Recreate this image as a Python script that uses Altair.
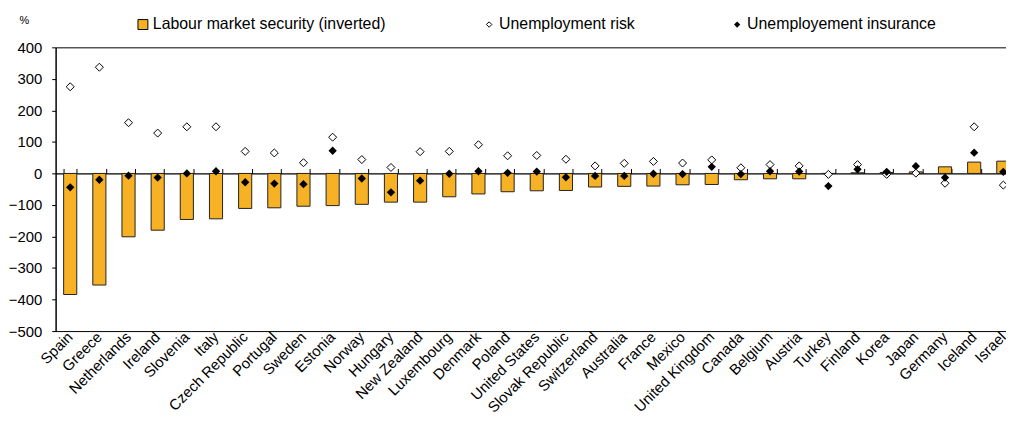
import altair as alt
import pandas as pd

countries = ["Spain", "Greece", "Netherlands", "Ireland", "Slovenia", "Italy",
             "Czech Republic", "Portugal", "Sweden", "Estonia", "Norway", "Hungary",
             "New Zealand", "Luxembourg", "Denmark", "Poland", "United States",
             "Slovak Republic", "Switzerland", "Australia", "France", "Mexico",
             "United Kingdom", "Canada", "Belgium", "Austria", "Turkey", "Finland",
             "Korea", "Japan", "Germany", "Iceland", "Israel"]

labour_security = [-384, -354, -201, -180, -146, -144, -111, -109, -104, -102, -98, -91,
                   -91, -74, -65, -58, -55, -54, -43, -41, -40, -36, -35, -20, -17, -17,
                   0, 2, 3, 5, 21, 36, 39]

unemp_risk = [275, 337, 161, 128, 148, 148, 70, 65, 34, 115, 44, 19,
              69, 70, 91, 56, 57, 45, 24, 32, 38, 33, 43, 18, 28, 24,
              -3, 28, -3, 1, -31, 148, -37]

unemp_insurance = [-44, -20, -7, -13, 0, 7, -28, -32, -34, 72, -16, -60,
                   -23, -1, 7, 2, 6, -12, -8, -8, -1, -2, 21, -2, 7, 6,
                   -40, 13, 5, 23, -13, 66, 5]

series_names = ["Labour market security (inverted)", "Unemployment risk",
                "Unemployement insurance"]

df = pd.DataFrame({
    "country": countries,
    "security": labour_security,
    "risk": unemp_risk,
    "insurance": unemp_insurance,
    "s1": series_names[0],
    "s2": series_names[1],
    "s3": series_names[2],
})

FONT = "Liberation Sans"
W = 970
H = 286
zero_offset = -H * 400 / 900
xscale = alt.Scale(paddingInner=0.55, paddingOuter=0.275)
yscale = alt.Scale(domain=[-500, 400], nice=False)

x_bottom = alt.X(
    "country:N", sort=countries, title=None, scale=xscale,
    axis=alt.Axis(orient="bottom", labelAngle=-45, labelAlign="right",
                  labelBaseline="middle", ticks=False, domain=False,
                  labelFontSize=15, labelFont=FONT, labelColor="#000",
                  labelPadding=3, labelOffset=0, labelOverlap=False,
                  labelFlush=False, labelLimit=300),
)
x_top = alt.X(
    "country:N", sort=countries, title=None, scale=xscale,
    axis=alt.Axis(orient="top", offset=zero_offset, labels=False, ticks=True,
                  tickBand="extent", tickSize=5, tickColor="#000", domain=True,
                  domainColor="#000", domainWidth=1.2),
)
x_none = alt.X("country:N", sort=countries, title=None, scale=xscale, axis=None)

y_axis = alt.Axis(values=list(range(-500, 401, 100)), grid=False,
                  tickSize=4, tickColor="#000", domainColor="#000",
                  labelFontSize=15, labelFont=FONT, labelColor="#000",
                  labelPadding=10, labelOverlap=False,
                  title="%", titleAngle=0, titleFontSize=11,
                  titleFont=FONT, titleFontWeight="normal", titleColor="#000",
                  titleX=-32, titleY=-27, titleAlign="center",
                  titleBaseline="middle")

leg_common = dict(title=None, orient="none", labelFontSize=16, labelFont=FONT,
                  labelColor="#000", padding=0, labelLimit=400, offset=0,
                  labelOffset=2)

bars = alt.Chart(df).mark_bar(stroke="#222", strokeWidth=1).encode(
    x=x_bottom,
    y=alt.Y("security:Q", scale=yscale, axis=y_axis),
    fill=alt.Fill("s1:N", scale=alt.Scale(domain=[series_names[0]], range=["#F7B124"]),
                  legend=alt.Legend(legendX=80, legendY=-31,
                                    symbolType="square", symbolSize=100,
                                    symbolStrokeColor="#000", symbolStrokeWidth=1,
                                    **leg_common)),
)

risk_pts = alt.Chart(df).mark_point(shape="diamond", filled=False, fill="white",
                                     fillOpacity=1, strokeWidth=1,
                                     size=65, opacity=1).encode(
    x=x_top,
    y=alt.Y("risk:Q", scale=yscale, axis=y_axis),
    color=alt.Color("s2:N", scale=alt.Scale(domain=[series_names[1]], range=["#000"]),
                    legend=alt.Legend(legendX=429, legendY=-31,
                                      symbolType="diamond", symbolFillColor="white",
                                      symbolStrokeWidth=1, symbolSize=30,
                                      **leg_common)),
)

ins_pts = alt.Chart(df).mark_point(shape="diamond", filled=True, size=70,
                                    opacity=1).encode(
    x=x_none,
    y=alt.Y("insurance:Q", scale=yscale, axis=y_axis),
    color=alt.Color("s3:N", scale=alt.Scale(domain=[series_names[2]], range=["#000"]),
                    legend=alt.Legend(legendX=679, legendY=-31,
                                      symbolType="diamond", symbolSize=40,
                                      **leg_common)),
)

chart = alt.layer(bars, risk_pts, ins_pts).resolve_scale(
    color="independent"
).properties(
    width=W, height=H,
    autosize=alt.AutoSizeParams(type="none"),
    padding={"left": 48, "top": 38, "right": -12, "bottom": 90},
).configure(font=FONT).configure_view(stroke="#000", strokeWidth=1)

chart.save("out.html", embed_options={"renderer": "svg", "actions": False})
